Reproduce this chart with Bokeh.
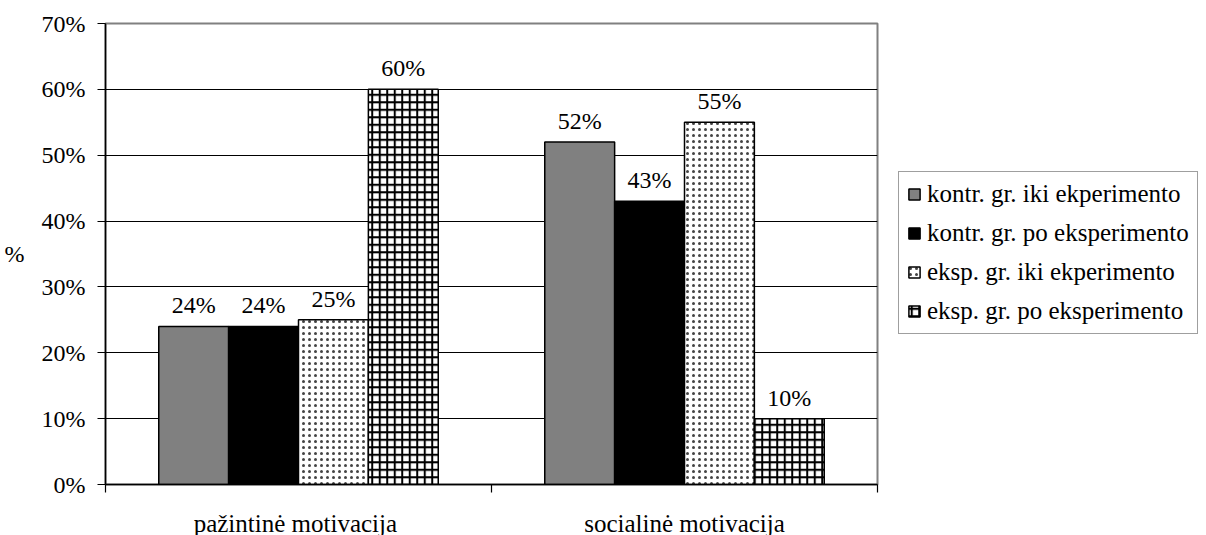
from bokeh.plotting import figure
from bokeh.models import (ColumnDataSource, FixedTicker, LabelSet, Legend,
                          LegendItem, Range1d)
from bokeh.embed import file_html
from bokeh.resources import INLINE
from bokeh.core.properties import value

categories = ["pažintinė  motivacija", "socialinė motivacija"]
series = ["kontr. gr. iki ekperimento", "kontr. gr. po eksperimento",
          "eksp. gr. iki ekperimento", "eksp. gr. po eksperimento"]
kontr_iki = [24, 52]
kontr_po = [24, 43]
eksp_iki = [25, 55]
eksp_po = [60, 10]
y_ticks = [0, 10, 20, 30, 40, 50, 60, 70]
y_tick_labels = ["0%", "10%", "20%", "30%", "40%", "50%", "60%", "70%"]
y_axis_title = "%"

values = [kontr_iki, kontr_po, eksp_iki, eksp_po]
fills = ["#808080", "#000000", "#ffffff", "#ffffff"]
hatches = [None, None, ".", "+"]
hatch_scales = [12, 12, 6, 7.5]
hatch_weights = [1, 1, 1.5, 2]
hatch_colors = ["black", "black", "#444444", "black"]

FONT = "Liberation Serif"
FS = "24px"
bar_w = 0.181

p = figure(frame_width=772, frame_height=461, output_backend="svg",
           toolbar_location=None, x_range=Range1d(0, len(categories)),
           y_range=Range1d(0, 70), min_border_left=105, min_border_top=23,
           min_border_bottom=47, min_border_right=2)
p.background_fill_color = "white"
p.border_fill_color = "white"
p.outline_line_color = "#808080"
p.outline_line_width = 2

items = []
for j, (name, vals) in enumerate(zip(series, values)):
    xs = [i + 0.5 + (j - 1.5) * bar_w for i in range(len(categories))]
    src = ColumnDataSource(dict(x=xs, top=vals,
                                lbl=[f"{v}%" for v in vals]))
    kw = {}
    if hatches[j]:
        kw = dict(hatch_pattern=hatches[j], hatch_scale=hatch_scales[j],
                  hatch_weight=hatch_weights[j], hatch_color=hatch_colors[j])
    r = p.vbar(x="x", top="top", bottom=0, width=bar_w, source=src,
               fill_color=fills[j], line_color="black", line_width=1.5, **kw)
    items.append(LegendItem(label=name, renderers=[r]))
    p.add_layout(LabelSet(x="x", y="top", text="lbl", source=src,
                          text_align="center", text_baseline="bottom",
                          y_offset=8, text_font=value(FONT),
                          text_font_size=FS, text_color="black"))

# axes
p.yaxis.ticker = FixedTicker(ticks=y_ticks)
p.yaxis.major_label_overrides = {t: l for t, l in zip(y_ticks, y_tick_labels)}
p.yaxis.major_tick_in = 0
p.yaxis.major_tick_out = 8
p.yaxis.minor_tick_line_color = None
p.yaxis.major_label_standoff = 12
p.yaxis.axis_line_color = "black"
p.yaxis.axis_line_width = 1.5
p.yaxis.major_tick_line_width = 1.2
p.yaxis.major_label_text_font_size = FS
p.yaxis.axis_label = y_axis_title
p.yaxis.axis_label_text_font = FONT
p.yaxis.axis_label_text_font_size = FS
p.yaxis.axis_label_text_font_style = "normal"
p.yaxis.axis_label_text_color = "black"
p.yaxis.axis_label_standoff = 14
try:
    p.yaxis.axis_label_orientation = "horizontal"
except Exception:
    pass

cat_pos = [i + 0.5 for i in range(len(categories))]
p.xaxis.ticker = FixedTicker(ticks=cat_pos,
                             minor_ticks=list(range(len(categories) + 1)))
p.xaxis.major_label_overrides = {c: n for c, n in zip(cat_pos, categories)}
p.xaxis.major_tick_line_color = None
p.xaxis.minor_tick_in = 0
p.xaxis.minor_tick_out = 8
p.xaxis.minor_tick_line_width = 1.2
p.xaxis.major_label_standoff = 17
p.xaxis.axis_line_color = "black"
p.xaxis.axis_line_width = 1.5
p.xaxis.major_label_text_font_size = "25px"

for ax in (p.xaxis, p.yaxis):
    ax.major_label_text_font = FONT
    ax.major_label_text_color = "black"

p.xgrid.grid_line_color = None
p.ygrid.ticker = FixedTicker(ticks=y_ticks[1:-1])
p.ygrid.grid_line_color = "black"
p.ygrid.grid_line_width = 1

legend = Legend(items=items, location=(21, 150), margin=0,
                label_text_font=FONT, label_text_font_size="25px",
                label_text_color="black", glyph_width=14, glyph_height=14,
                label_height=26, label_standoff=6, spacing=11, padding=8,
                border_line_color="#404040", border_line_width=1.2,
                background_fill_color="white")
p.add_layout(legend, "right")

open("out.html", "w").write(file_html(p, INLINE))
